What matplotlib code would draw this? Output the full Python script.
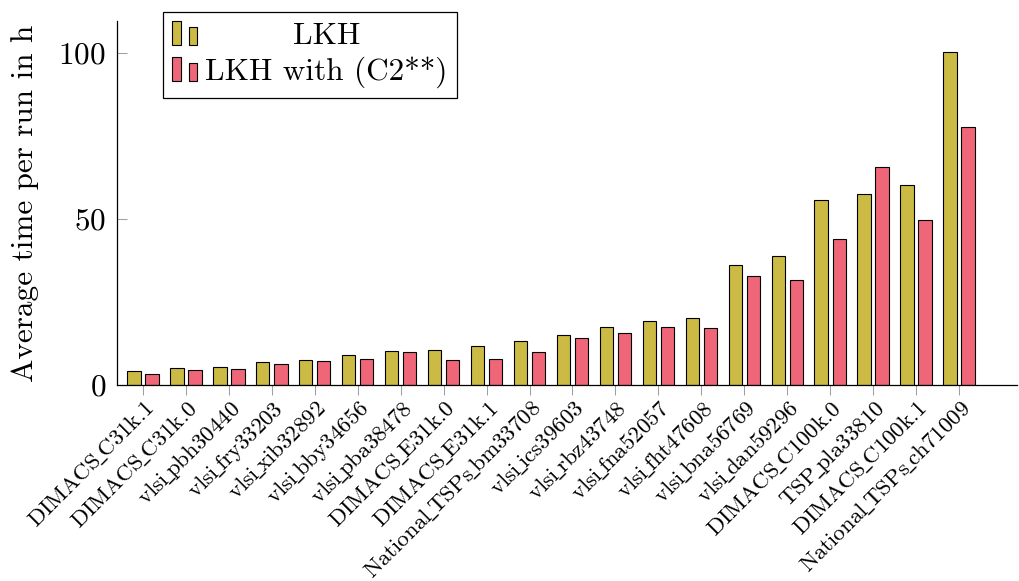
import matplotlib
matplotlib.use("Agg")
import matplotlib.pyplot as plt
import numpy as np
from matplotlib.patches import Rectangle
from matplotlib.legend_handler import HandlerBase

plt.rcParams['font.family'] = ['cmr10', 'DejaVu Serif']
plt.rcParams['axes.formatter.use_mathtext'] = True
plt.rcParams['mathtext.fontset'] = 'cm'

categories = ["DIMACS_C31k.1", "DIMACS_C31k.0", "vlsi_pbh30440", "vlsi_fry33203",
              "vlsi_xib32892", "vlsi_bby34656", "vlsi_pba38478", "DIMACS_E31k.0",
              "DIMACS_E31k.1", "National_TSPs_bm33708", "vlsi_ics39603", "vlsi_rbz43748",
              "vlsi_fna52057", "vlsi_fht47608", "vlsi_bna56769", "vlsi_dan59296",
              "DIMACS_C100k.0", "TSP_pla33810", "DIMACS_C100k.1", "National_TSPs_ch71009"]
lkh = [4.1, 5.0, 5.3, 6.9, 7.6, 8.9, 10.1, 10.6, 11.6, 13.1,
       15.1, 17.6, 19.4, 20.1, 36.0, 38.8, 55.6, 57.6, 60.1, 100.4]
lkh_c2 = [3.4, 4.5, 4.8, 6.2, 7.1, 7.9, 9.9, 7.5, 7.9, 10.0,
          14.1, 15.6, 17.4, 17.3, 32.7, 31.5, 43.9, 65.6, 49.8, 77.7]
series_names = ["LKH", "LKH with (C2**)"]
colors = ["#CBBA44", "#EF6679"]
yticks = [0, 50, 100]

W, H = 1019, 581
fig = plt.figure(figsize=(W / 100, H / 100), dpi=100)
ax = fig.add_axes([117 / W, 1 - 385 / H, (1017 - 117) / W, (385 - 20.7) / H])

x = np.arange(len(categories))
bw = 0.31
off = 0.21
b1 = ax.bar(x - off, lkh, bw, color=colors[0], edgecolor='black', linewidth=0.8, label=series_names[0])
b2 = ax.bar(x + off, lkh_c2, bw, color=colors[1], edgecolor='black', linewidth=0.8, label=series_names[1])

ax.set_xlim(-0.605, 20.35)
ax.set_ylim(0, 109.7)
ax.spines['top'].set_visible(False)
ax.spines['right'].set_visible(False)
for s in ['left', 'bottom']:
    ax.spines[s].set_linewidth(0.9)

display_labels = [c.replace("_", r"$\!\_\!$") for c in categories]
ax.set_yticks(yticks)
ax.set_xticks(x)
ax.set_xticklabels(display_labels, rotation=45, ha='right', va='top', rotation_mode='anchor', fontsize=16.5)
ax.tick_params(axis='y', direction='in', length=7.2, width=0.75, color='#A0A0A0', labelsize=22.5, pad=8)
ax.tick_params(axis='x', direction='out', length=7.2, width=0.75, color='#A0A0A0', pad=1.5)
ax.set_ylabel("Average time per run in h", fontsize=22.5, labelpad=14)


class TwoBarHandler(HandlerBase):
    def create_artists(self, legend, orig_handle, xdescent, ydescent, width, height, fontsize, trans):
        fc = orig_handle.patches[0].get_facecolor()
        bwid = width * 0.34
        r1 = Rectangle((-xdescent, -ydescent), bwid, height, facecolor=fc,
                       edgecolor='black', linewidth=0.8, transform=trans)
        r2 = Rectangle((-xdescent + width - bwid, -ydescent), bwid, height * 0.75, facecolor=fc,
                       edgecolor='black', linewidth=0.8, transform=trans)
        return [r1, r2]


leg = fig.legend([b1, b2], series_names, loc='upper left',
                 bbox_to_anchor=(163 / W, 1 - 12 / H), bbox_transform=fig.transFigure,
                 borderaxespad=0, fontsize=22.5, fancybox=False, shadow=False, framealpha=1,
                 edgecolor='black', handlelength=0.8, handleheight=0.8, handletextpad=0.25,
                 labelspacing=0.2, borderpad=0.3,
                 handler_map={type(b1): TwoBarHandler()})
leg.get_frame().set_linewidth(0.9)

# center first label within the text column (as in the reference)
fig.canvas.draw()
texts = leg.get_texts()
w0 = texts[0].get_window_extent().width
w1 = texts[1].get_window_extent().width
texts[0].set_x((w1 - w0) / 2)

fig.savefig("out.png", dpi=100)
